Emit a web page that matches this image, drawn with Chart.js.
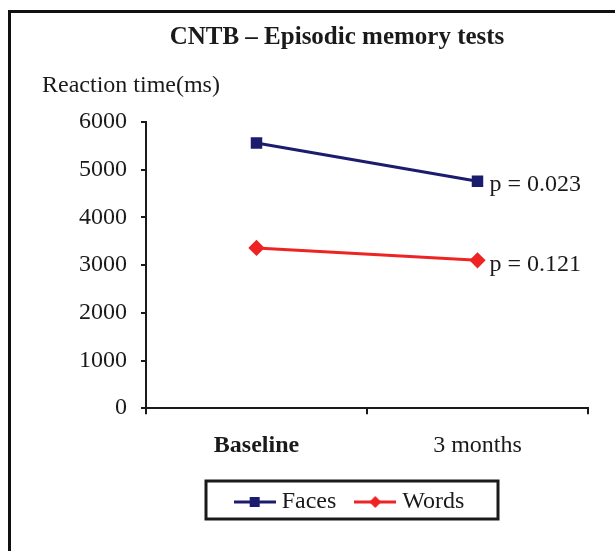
<!DOCTYPE html>
<html>
<head>
<meta charset="utf-8">
<script src="https://cdn.jsdelivr.net/npm/chart.js@4.4.1/dist/chart.umd.min.js"></script>
<style>
    html, body { margin: 0; padding: 0; background: #fff; overflow: hidden; }
    #wrap { position: relative; width: 615px; height: 551px; }
    #frame {
        position: absolute; left: 8px; top: 10px; width: 700px; height: 600px;
        border-left: 3px solid #111; border-top: 3px solid #111;
    }
    #chart { position: absolute; left: 0; top: 0; }
</style>
</head>
<body>
<div id="wrap">
    <div id="frame"></div>
    <canvas id="chart" width="615" height="551"></canvas>
</div>
<script>
const timepoints = ['Baseline', '3 months'];
const facesRT = [5560, 4760];
const wordsRT = [3360, 3100];
const pValues = ['p = 0.023', 'p = 0.121'];
const yTicks = [0, 1000, 2000, 3000, 4000, 5000, 6000];

const SERIF = "'Liberation Serif', 'Times New Roman', serif";
const NAVY = '#1c1c6e';
const RED = '#ee2424';
const INK = '#1a1a1a';

// little line+marker pictures for the legend
function legendSymbol(color, style) {
    const c = document.createElement('canvas');
    c.width = 42; c.height = 14;
    const g = c.getContext('2d');
    g.strokeStyle = color;
    g.lineWidth = 3;
    g.beginPath(); g.moveTo(0, 7); g.lineTo(42, 7); g.stroke();
    g.fillStyle = color;
    if (style === 'rect') {
        g.fillRect(16, 2, 10, 10);
    } else {
        g.beginPath();
        g.moveTo(21, 1); g.lineTo(27, 7); g.lineTo(21, 13); g.lineTo(15, 7);
        g.closePath(); g.fill();
    }
    return c;
}

const extrasPlugin = {
    id: 'extras',
    afterLayout(chart) {
        // nudge the legend to where the original sits
        const lg = chart.legend;
        lg.left -= 15; lg.right -= 15;
        const h = lg.bottom - lg.top;
        lg.top = 466; lg.bottom = 466 + h;
    },
    afterDatasetsDraw(chart) {
        const ctx = chart.ctx;
        ctx.save();
        ctx.fillStyle = INK;
        ctx.font = '24px ' + SERIF;
        ctx.textBaseline = 'middle';
        ctx.textAlign = 'left';
        chart.data.datasets.forEach((ds, i) => {
            const pt = chart.getDatasetMeta(i).data[1];
            ctx.fillText(pValues[i], pt.x + 12, pt.y + 4);
        });
        ctx.restore();
    },
    afterDraw(chart) {
        const ctx = chart.ctx;
        ctx.save();
        ctx.fillStyle = INK;
        ctx.textBaseline = 'middle';
        ctx.font = 'bold 25px ' + SERIF;
        ctx.textAlign = 'center';
        ctx.fillText('CNTB \u2013 Episodic memory tests', 337, 38);
        ctx.font = '24px ' + SERIF;
        ctx.textAlign = 'left';
        ctx.fillText('Reaction time(ms)', 42, 86);

        // box round the legend
        const lg = chart.legend;
        const cx = (lg.left + lg.right) / 2;
        ctx.strokeStyle = INK;
        ctx.lineWidth = 3;
        ctx.strokeRect(cx - 146, 481, 292, 38);
        ctx.restore();
    }
};

new Chart(document.getElementById('chart'), {
    type: 'line',
    data: {
        labels: timepoints,
        datasets: [
            {
                label: 'Faces',
                data: facesRT,
                borderColor: NAVY,
                backgroundColor: NAVY,
                borderWidth: 3,
                pointStyle: 'rect',
                pointRadius: 6,
                pointHoverRadius: 6,
                tension: 0
            },
            {
                label: 'Words',
                data: wordsRT,
                borderColor: RED,
                backgroundColor: RED,
                borderWidth: 3,
                pointStyle: 'rectRot',
                pointRadius: 6,
                pointHoverRadius: 6,
                tension: 0
            }
        ]
    },
    options: {
        responsive: false,
        animation: false,
        layout: { padding: { left: 65, right: 27, top: 122, bottom: 16 } },
        plugins: {
            title: { display: false },
            tooltip: { enabled: false },
            legend: {
                display: true,
                position: 'bottom',
                fullSize: false,
                labels: {
                    color: INK,
                    font: { family: SERIF, size: 24 },
                    usePointStyle: true,
                    pointStyleWidth: 30,
                    padding: 24,
                    generateLabels: (chart) => [
                        { text: 'Faces', pointStyle: legendSymbol(NAVY, 'rect'), fontColor: INK, lineWidth: 0, datasetIndex: 0 },
                        { text: 'Words', pointStyle: legendSymbol(RED, 'rectRot'), fontColor: INK, lineWidth: 0, datasetIndex: 1 }
                    ]
                }
            }
        },
        scales: {
            x: {
                offset: true,
                grid: {
                    offset: true,
                    drawOnChartArea: false,
                    drawTicks: true,
                    tickLength: 6,
                    color: INK,
                    lineWidth: 2
                },
                border: { display: true, color: INK, width: 2 },
                ticks: {
                    color: INK,
                    padding: 17,
                    font: (ctx) => ({
                        family: SERIF,
                        size: 24,
                        weight: ctx.index === 0 ? 'bold' : 'normal'
                    })
                }
            },
            y: {
                min: 0,
                max: 6000,
                afterBuildTicks: (axis) => { axis.ticks = yTicks.map(v => ({ value: v })); },
                grid: {
                    drawOnChartArea: false,
                    drawTicks: true,
                    tickLength: 5,
                    color: INK,
                    lineWidth: 2
                },
                border: { display: true, color: INK, width: 2 },
                ticks: {
                    color: INK,
                    padding: 14,
                    font: { family: SERIF, size: 24 },
                    callback: (v) => String(v)
                }
            }
        }
    },
    plugins: [extrasPlugin]
});
</script>
</body>
</html>
